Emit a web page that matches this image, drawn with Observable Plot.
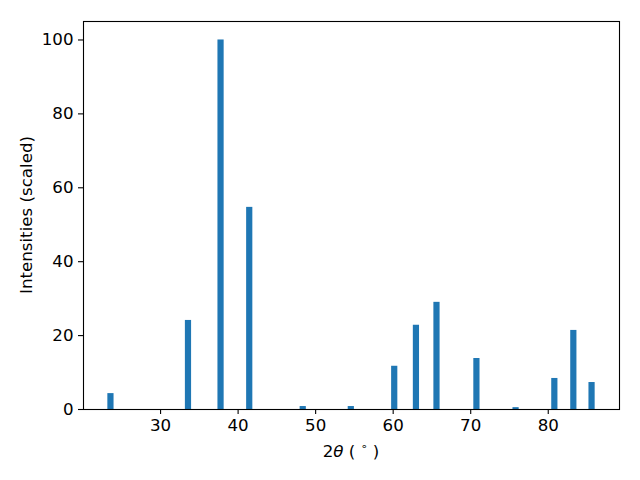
<!DOCTYPE html>
<html><head><meta charset="utf-8">
<script src="https://cdn.jsdelivr.net/npm/d3@7"></script>
<script src="https://cdn.jsdelivr.net/npm/@observablehq/plot@0.6"></script>
<style>body{margin:0;background:#fff;}</style>
</head><body><div id="chart"></div>
<script>
const twoTheta = [23.6, 33.6, 37.8, 41.5, 48.4, 54.6, 60.2, 63.0, 65.65, 70.8, 75.85, 80.85, 83.3, 85.65];
const intensity = [4.3, 24.1, 100, 54.7, 0.8, 0.8, 11.7, 22.8, 29.0, 13.8, 0.5, 8.4, 21.4, 7.3];
const xTicks = [30, 40, 50, 60, 70, 80];
const yTicks = [0, 20, 40, 60, 80, 100];
const yLabel = "Intensities (scaled)";

const halfWidth = 0.4;
const data = twoTheta.map((t, i) => ({t, v: intensity[i]}));

const plot = Plot.plot({
  width: 640, height: 480,
  marginLeft: 83, marginRight: 21, marginTop: 21, marginBottom: 71,
  style: {fontFamily: "DejaVu Sans", fontSize: "16.67px", color: "black", background: "white"},
  x: {domain: [20.06, 89.19]},
  y: {domain: [0, 105]},
  marks: [
    Plot.rectY(data, {x1: d => d.t - halfWidth, x2: d => d.t + halfWidth, y1: 0, y2: "v", fill: "#1f77b4"}),
    Plot.frame({stroke: "black", strokeWidth: 1.1}),
    Plot.axisX(xTicks, {tickSize: 5, tickPadding: 5, fontSize: 16.67, label: null, strokeWidth: 1.1}),
    Plot.axisY(yTicks, {tickSize: 5, tickPadding: 5, fontSize: 16.67, label: null, strokeWidth: 1.1})
  ]
});
document.getElementById("chart").appendChild(plot);

const svg = d3.select(plot);
const xl = svg.append("text")
  .attr("x", 351).attr("y", 457)
  .attr("text-anchor", "middle")
  .attr("font-family", "DejaVu Sans").attr("font-size", 16.67).attr("fill", "black")
  .attr("xml:space", "preserve").style("white-space", "pre");
xl.append("tspan").text("2");
xl.append("tspan").attr("font-style", "italic").text("θ");
xl.append("tspan").text(" ( ");
xl.append("tspan").attr("font-size", 11).attr("dy", -7).text("∘");
xl.append("tspan").attr("dy", 7).text(" )");

svg.append("text")
  .attr("transform", "translate(32,215) rotate(-90)")
  .attr("text-anchor", "middle")
  .attr("font-family", "DejaVu Sans").attr("font-size", 16.67).attr("fill", "black")
  .text(yLabel);
</script>
</body></html>
